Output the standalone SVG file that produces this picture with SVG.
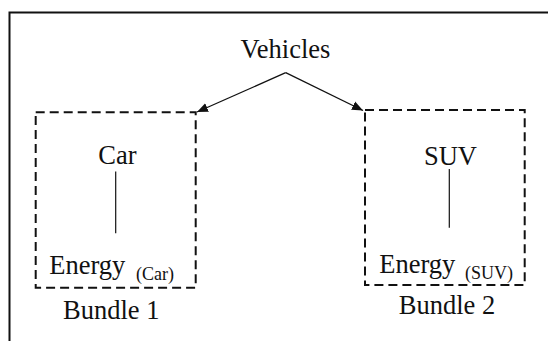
<svg xmlns="http://www.w3.org/2000/svg" width="548" height="341" viewBox="0 0 548 341">
  <defs>
    <style>
      text { font-family: 'Liberation Serif', 'Times New Roman', Times, serif; fill: #111; }
      .lbl { font-size: 26.5px; }
      .sub { font-size: 18px; }
      .bundle { fill: none; stroke: #111; stroke-width: 2; stroke-dasharray: 9 5; }
      .link { fill: none; stroke: #111; stroke-width: 1.2; }
      .edge { fill: none; stroke: #111; stroke-width: 1.3; }
    </style>
    <marker id="arrow" viewBox="0 0 10 10" refX="10" refY="5" markerWidth="11" markerHeight="11" markerUnits="userSpaceOnUse" orient="auto">
      <path d="M0,0.8 L10,5 L0,9.2 Z" fill="#111"/>
    </marker>
  </defs>

  <rect width="548" height="341" fill="#fff"/>
  <!-- frame -->
  <path d="M9.5,341 V12.5 H548" fill="none" stroke="#111" stroke-width="2"/>

  <g id="vehicles">
    <text class="lbl" font-family="Liberation Serif, serif" x="285.5" y="58" text-anchor="middle">Vehicles</text>
  </g>

  <g id="bundle1">
    <rect class="bundle" x="35.7" y="112.3" width="160" height="175.4"/>
    <text class="lbl" font-family="Liberation Serif, serif" x="117.5" y="164" text-anchor="middle">Car</text>
    <line class="link" x1="115.7" y1="171.5" x2="115.7" y2="233.3"/>
    <text class="lbl" font-family="Liberation Serif, serif" x="49.3" y="273.5">Energy<tspan class="sub" x="136" y="279.5">(Car)</tspan></text>
    <text class="lbl" font-family="Liberation Serif, serif" x="111.3" y="319.3" text-anchor="middle">Bundle 1</text>
  </g>

  <g id="bundle2">
    <rect class="bundle" x="365" y="110" width="159.7" height="175"/>
    <text class="lbl" font-family="Liberation Serif, serif" x="450.5" y="165" text-anchor="middle">SUV</text>
    <line class="link" x1="449.3" y1="169" x2="449.3" y2="227.7"/>
    <text class="lbl" font-family="Liberation Serif, serif" x="379.3" y="272.7">Energy<tspan class="sub" x="465" y="278.5">(SUV)</tspan></text>
    <text class="lbl" font-family="Liberation Serif, serif" x="447" y="314.3" text-anchor="middle">Bundle 2</text>
  </g>

  <g id="connectors">
    <line class="edge" x1="285.7" y1="72.7" x2="197" y2="112" marker-end="url(#arrow)"/>
    <line class="edge" x1="285.7" y1="72.7" x2="363" y2="110.5" marker-end="url(#arrow)"/>
  </g>
</svg>
